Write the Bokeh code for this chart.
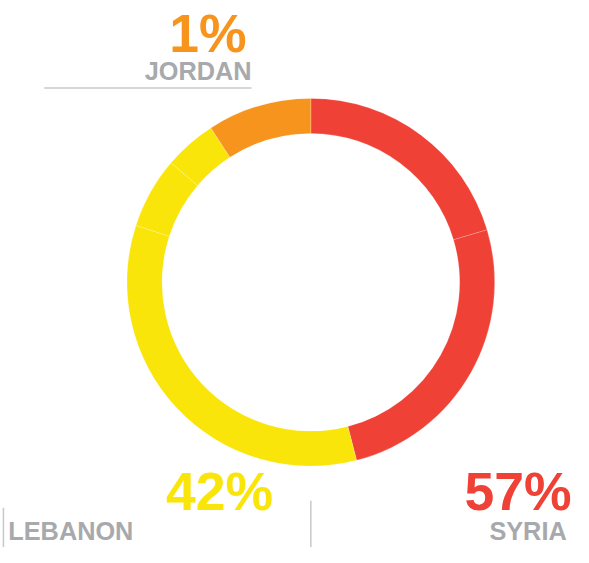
import numpy as np
from bokeh.plotting import figure
from bokeh.models import Range1d, ColumnDataSource
from bokeh.core.properties import value
from bokeh.embed import file_html
from bokeh.resources import INLINE

# ---- data ----
countries = ["Syria", "Lebanon", "Jordan"]
shares_pct = ["57%", "42%", "1%"]
labels = ["SYRIA", "LEBANON", "JORDAN"]
colors = {"Syria": "#EF4136", "Lebanon": "#F9E50A", "Jordan": "#F7941D"}

# ring segments (clockwise from top), share of the ring
segment_country = ["Syria", "Syria", "Lebanon", "Lebanon", "Lebanon", "Jordan"]
segment_share = [20.4, 25.6, 34.0, 6.25, 4.6, 9.15]

# ---- layout (reference pixel coordinates, y down) ----
W, H = 573, 547
REF_W, REF_H = 589, 563
S = W / REF_W  # font scale

def Y(y):
    return REF_H - y

p = figure(width=W, height=H, output_backend="svg", toolbar_location=None,
           x_range=Range1d(0, REF_W), y_range=Range1d(0, REF_H),
           min_border=0)
p.axis.visible = False
p.grid.visible = False
p.outline_line_color = None
p.background_fill_color = "white"
p.border_fill_color = "white"

cx, cy = 319, 290
r_out, r_in = 189, 153

shares = np.array(segment_share, dtype=float)
cum = np.concatenate([[0], np.cumsum(shares)]) / shares.sum() * 2 * np.pi
theta1 = cum[:-1]
theta2 = cum[1:]
src = ColumnDataSource(dict(
    start=np.pi / 2 - theta2,
    end=np.pi / 2 - theta1,
    color=[colors[c] for c in segment_country],
    x=[cx] * len(shares),
    y=[Y(cy)] * len(shares),
))
p.annular_wedge(x="x", y="y", inner_radius=r_in, outer_radius=r_out,
                start_angle="start", end_angle="end", direction="anticlock",
                fill_color="color", line_color="white", line_alpha=0.35,
                line_width=0.6, source=src)

font = value("Liberation Sans")
gray = "#A7A9AC"
linec = "#C7C8CA"
BIG, SMALL = 55, 26
big = f"{BIG * S:.1f}px"
small = f"{SMALL * S:.1f}px"

def base(y_ref, size):
    # compensate for the renderer's baseline placement
    return Y(y_ref - 0.33 * size)

# Jordan (top)
p.text(x=[253], y=[base(52, BIG)], text=[shares_pct[2]], text_font=font, text_font_size=big,
       text_font_style="bold", text_color=colors["Jordan"], text_align="right",
       text_baseline="alphabetic")
p.text(x=[258], y=[base(81, SMALL)], text=[labels[2]], text_font=font, text_font_size=small,
       text_font_style="bold", text_color=gray, text_align="right",
       text_baseline="alphabetic")
p.line(x=[45, 258], y=[Y(90), Y(90)], line_color=linec, line_width=1.5)

# Lebanon (bottom left)
p.text(x=[170], y=[base(523, BIG)], text=[shares_pct[1]], text_font=font, text_font_size=big,
       text_font_style="bold", text_color=colors["Lebanon"], text_align="left",
       text_baseline="alphabetic")
p.text(x=[8], y=[base(555, SMALL)], text=[labels[1]], text_font=font, text_font_size=small,
       text_font_style="bold", text_color=gray, text_align="left",
       text_baseline="alphabetic")
p.line(x=[3, 3], y=[Y(522), Y(563)], line_color=linec, line_width=1.5)

# Syria (bottom right)
p.text(x=[587], y=[base(523, BIG)], text=[shares_pct[0]], text_font=font, text_font_size=big,
       text_font_style="bold", text_color=colors["Syria"], text_align="right",
       text_baseline="alphabetic")
p.text(x=[582], y=[base(555, SMALL)], text=[labels[0]], text_font=font, text_font_size=small,
       text_font_style="bold", text_color=gray, text_align="right",
       text_baseline="alphabetic")
p.line(x=[319, 319], y=[Y(515), Y(563)], line_color=linec, line_width=1.5)

open("out.html", "w").write(file_html(p, INLINE))
